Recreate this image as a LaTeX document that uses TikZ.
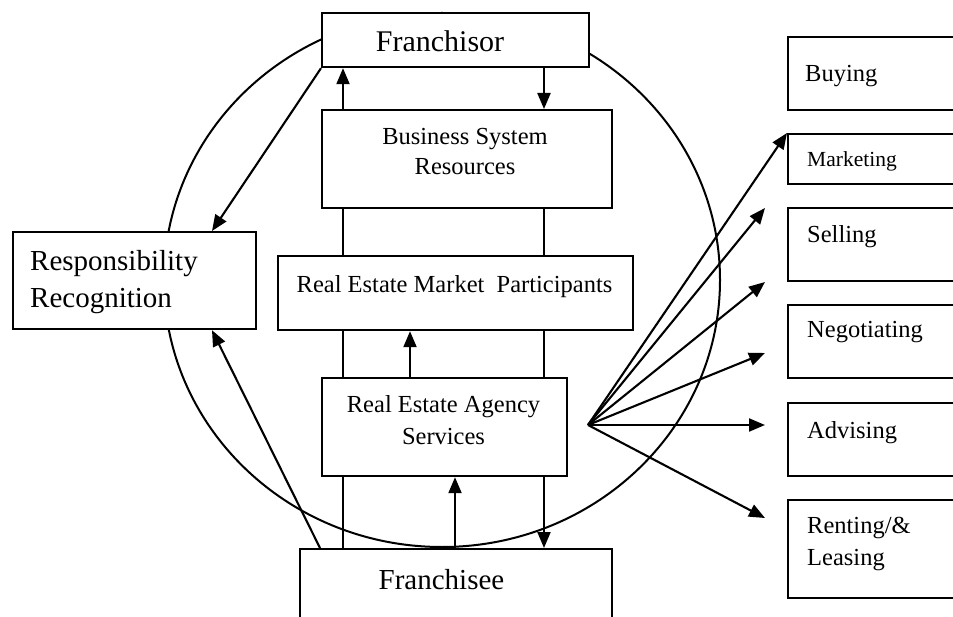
\documentclass[tikz,border=0pt]{standalone}
\usepackage{fontspec}
\setmainfont{Liberation Serif}
\usetikzlibrary{arrows.meta}
\begin{document}
\begin{tikzpicture}[x=1pt,y=-1pt,
  box/.style={draw, line width=2.2pt, fill=white, inner sep=0pt, anchor=north west},
  txt/.style={inner sep=0pt, anchor=base},
  txtl/.style={inner sep=0pt, anchor=base west},
  fbig/.style={font=\fontsize{30}{36}\selectfont},
  fmid/.style={font=\fontsize{29}{35}\selectfont},
  fsm/.style={font=\fontsize{24.5}{29}\selectfont},
  arr/.style={line width=2.1pt, -{Triangle[length=16pt,width=13pt]}},
  ln/.style={line width=2.1pt}]
\clip (0,0) rectangle (953,617);
\fill[white] (0,0) rectangle (953,617);
% big ellipse
\draw[line width=2pt] (442,280) ellipse [x radius=278, y radius=267];
% boxes
\node[box, minimum width=267, minimum height=54] (fr) at (321,12) {};
\node[box, minimum width=290, minimum height=98] (bsr) at (321,109) {};
\node[box, minimum width=355, minimum height=74] (remp) at (277,255) {};
\node[box, minimum width=245, minimum height=98] (reas) at (321,377) {};
\node[box, minimum width=312, minimum height=90] (fee) at (299,548) {};
\node[box, minimum width=243, minimum height=97] (rr) at (12,231) {};
\node[box, minimum width=180, minimum height=73] (buy) at (787,36) {};
\node[box, minimum width=180, minimum height=50] (mkt) at (787,133) {};
\node[box, minimum width=180, minimum height=73] (sel) at (787,207) {};
\node[box, minimum width=180, minimum height=73] (neg) at (787,304) {};
\node[box, minimum width=180, minimum height=73] (adv) at (787,402) {};
\node[box, minimum width=180, minimum height=98] (rent) at (787,499) {};
% texts
\node[txt, fbig] (tfr) at (440,52) {Franchisor};
\node[txt, fsm] (tbsr1) at (465,145) {Business System};
\node[txt, fsm] (tbsr2) at (465,175) {Resources};
\node[txt, fsm] (tremp) at (454.5,293) {Real Estate Market~~Participants};
\node[txt, fsm] (treas1) at (443.5,413) {Real Estate Agency};
\node[txt, fsm] (treas2) at (443.5,444) {Services};
\node[txt, fmid] (tfee) at (441.5,589) {Franchisee};
\node[txtl, fmid] (trr1) at (30,271) {Responsibility};
\node[txtl, fmid] (trr2) at (30,308) {Recognition};
\node[txtl, fsm] (tbuy) at (805,82) {Buying};
\node[txtl, font=\fontsize{21.5}{26}\selectfont] (tmkt) at (807,167) {Marketing};
\node[txtl, fsm] (tsel) at (807,243) {Selling};
\node[txtl, fsm] (tneg) at (807,338) {Negotiating};
\node[txtl, fsm] (tadv) at (807,438) {Advising};
\node[txtl, fsm] (trent1) at (807,533) {Renting/\&};
\node[txtl, fsm] (trent2) at (807,565) {Leasing};
% vertical connectors
\coordinate (L) at (343,0);
\coordinate (R) at (544,0);
\coordinate (M1) at (410,0);
\coordinate (M2) at (455,0);
\draw[arr] (L |- bsr.north) -- (L |- fr.south);
\draw[ln] (L |- bsr.south) -- (L |- remp.north);
\draw[ln] (L |- remp.south) -- (L |- reas.north);
\draw[ln] (L |- reas.south) -- (L |- fee.north);
\draw[arr] (R |- fr.south) -- (R |- bsr.north);
\draw[ln] (R |- bsr.south) -- (R |- remp.north);
\draw[ln] (R |- remp.south) -- (R |- reas.north);
\draw[arr] (R |- reas.south) -- (R |- fee.north);
\draw[arr] (M1 |- reas.north) -- (M1 |- remp.south);
\draw[arr] (M2 |- fee.north) -- (M2 |- reas.south);
% responsibility arrows
\coordinate (rrt) at (212,0);
\coordinate (feel) at (320,0);
\draw[arr] (fr.south west) -- (rrt |- rr.north);
\draw[arr] (feel |- fee.north) -- (rrt |- rr.south);
% fan
\coordinate (fan) at (588,425);
\coordinate (t2) at (765,208);
\coordinate (t3) at (765,282);
\coordinate (t4) at (765,353);
\coordinate (t5) at (765,425);
\coordinate (t6) at (765,518);
\draw[arr] (fan) -- (mkt.north west);
\draw[arr] (fan) -- (t2);
\draw[arr] (fan) -- (t3);
\draw[arr] (fan) -- (t4);
\draw[arr] (fan) -- (t5);
\draw[arr] (fan) -- (t6);
\end{tikzpicture}
\end{document}
